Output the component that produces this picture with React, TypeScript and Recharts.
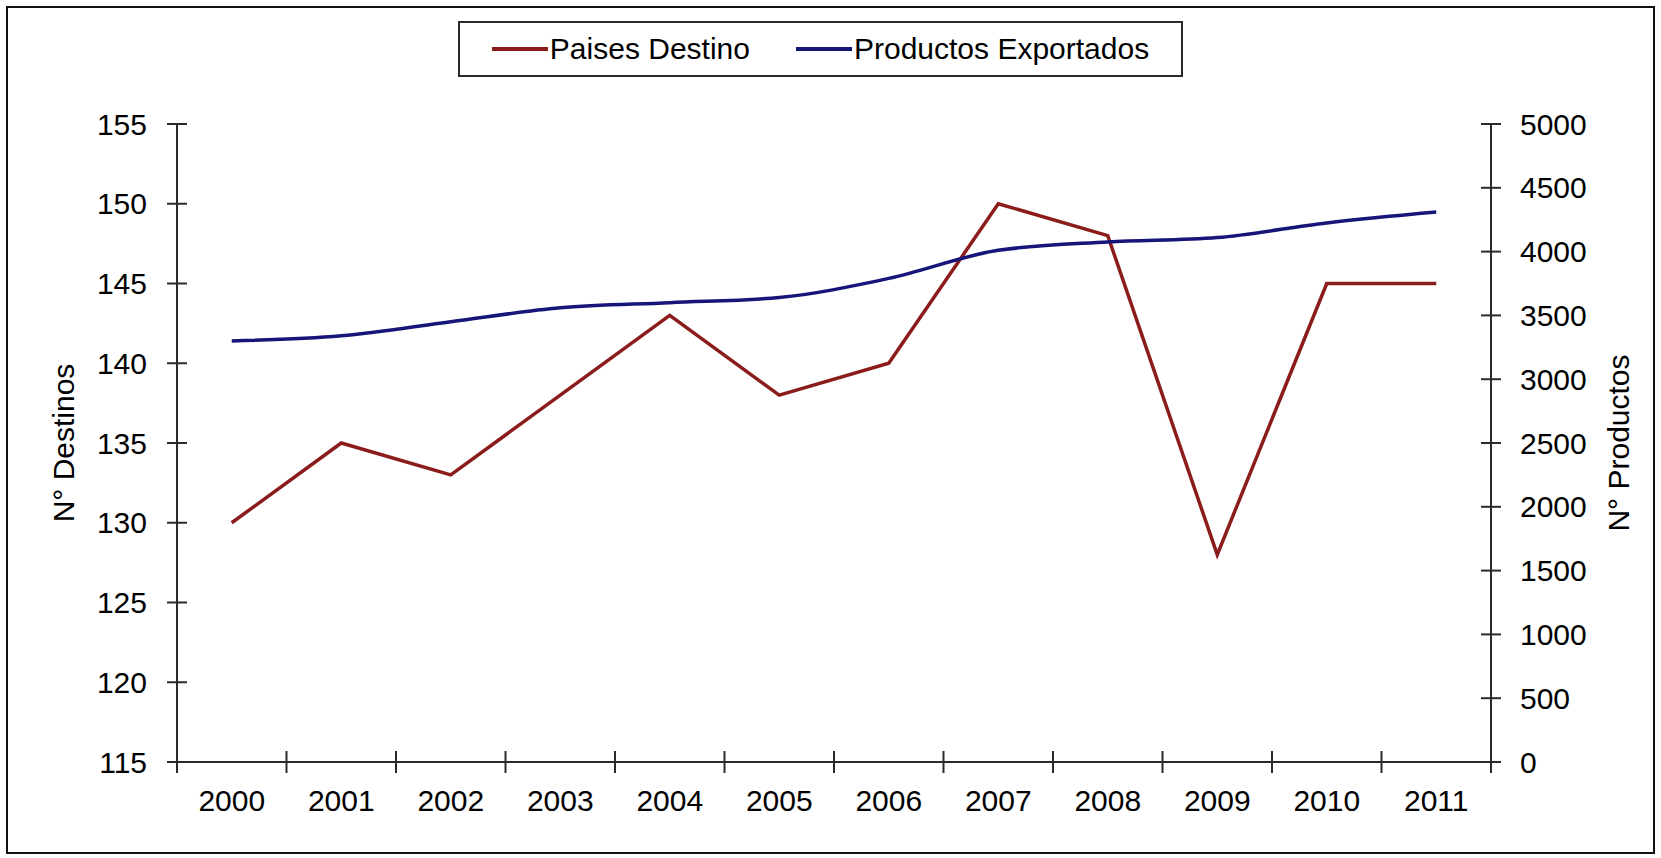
import { Label, Legend, Line, LineChart, XAxis, YAxis } from 'recharts'

const years = ['2000', '2001', '2002', '2003', '2004', '2005', '2006', '2007', '2008', '2009', '2010', '2011']
const paisesDestino = [130, 135, 133, 138, 143, 138, 140, 150, 148, 128, 145, 145]
const productosExportados = [3300, 3340, 3450, 3560, 3600, 3640, 3790, 4010, 4075, 4110, 4225, 4310]
const leftTicks = [115, 120, 125, 130, 135, 140, 145, 150, 155]
const rightTicks = [0, 500, 1000, 1500, 2000, 2500, 3000, 3500, 4000, 4500, 5000]

// year labels sit on integers, tick marks on the half steps between them (Excel style)
const xTicks: number[] = []
years.forEach((_, i) => xTicks.push(i - 0.5, i))
xTicks.push(years.length - 0.5)

const data = years.map((year, i) => ({
  i,
  year,
  paises: paisesDestino[i],
  productos: productosExportados[i],
}))

const FONT = '"Liberation Sans", Arial, sans-serif'
const FS = 30
const AXIS = '#2a2a2a'
const RED = '#8B1C1C'
const BLUE = '#16167A'

function XTick(props: any) {
  const { x, y, payload } = props
  const v = payload.value as number
  if (Number.isInteger(v)) {
    return (
      <text x={x} y={y + 28} dy="0.71em" textAnchor="middle" fontSize={FS} fill="#000" fontFamily={FONT}>
        {years[v]}
      </text>
    )
  }
  return <line x1={x} x2={x} y1={y - 11} y2={y + 11} stroke={AXIS} strokeWidth={2} />
}

function LeftTick(props: any) {
  const { x, y, payload } = props
  return (
    <g>
      <line x1={x - 10} x2={x + 10} y1={y} y2={y} stroke={AXIS} strokeWidth={2} />
      <text x={x - 30} y={y} dy="0.35em" textAnchor="end" fontSize={FS} fill="#000" fontFamily={FONT}>
        {payload.value}
      </text>
    </g>
  )
}

function RightTick(props: any) {
  const { x, y, payload } = props
  return (
    <g>
      <line x1={x - 10} x2={x + 10} y1={y} y2={y} stroke={AXIS} strokeWidth={2} />
      <text x={x + 29} y={y} dy="0.35em" textAnchor="start" fontSize={FS} fill="#000" fontFamily={FONT}>
        {payload.value}
      </text>
    </g>
  )
}

function AxisTitle(text: string, dx: number) {
  return (props: any) => {
    const { x, y, height } = props.viewBox
    const cx = x + dx
    const cy = y + height / 2
    return (
      <text
        x={cx}
        y={cy}
        transform={`rotate(-90 ${cx} ${cy})`}
        textAnchor="middle"
        dy="0.35em"
        fontSize={FS}
        fill="#000"
        fontFamily={FONT}
      >
        {text}
      </text>
    )
  }
}

function LegendBox({ payload }: any) {
  return (
    <div
      style={{
        height: 56,
        boxSizing: 'border-box',
        border: `2px solid ${AXIS}`,
        background: '#fff',
        display: 'flex',
        alignItems: 'center',
        justifyContent: 'center',
        gap: 46,
        fontFamily: FONT,
        fontSize: FS,
        color: '#000',
      }}
    >
      {(payload || []).map((p: any) => (
        <span key={p.value} style={{ display: 'flex', alignItems: 'center' }}>
          <span style={{ display: 'inline-block', width: 56, height: 4, background: p.color, marginRight: 2 }} />
          {p.value}
        </span>
      ))}
    </div>
  )
}

export default function App() {
  return (
    <div style={{ position: 'absolute', left: 0, top: 0, width: 1661, height: 858, background: '#fff' }}>
      <div
        style={{
          position: 'absolute',
          left: 6,
          top: 6,
          width: 1649,
          height: 848,
          boxSizing: 'border-box',
          border: '2px solid #111',
        }}
      />
      <div style={{ position: 'absolute', left: 0, top: 0 }}>
        <LineChart width={1661} height={858} data={data} margin={{ top: 124, right: 0, bottom: 95, left: 0 }}>
          <XAxis
            dataKey="i"
            type="number"
            domain={[-0.5, years.length - 0.5]}
            ticks={xTicks}
            interval={0}
            tickLine={false}
            tickSize={0}
            tickMargin={0}
            tick={<XTick />}
            axisLine={{ stroke: AXIS, strokeWidth: 2 }}
            height={1}
          />
          <YAxis
            yAxisId="left"
            domain={[115, 155]}
            ticks={leftTicks}
            interval={0}
            width={177}
            tickLine={false}
            tickSize={0}
            tickMargin={0}
            tick={<LeftTick />}
            axisLine={{ stroke: AXIS, strokeWidth: 2 }}
          >
            <Label content={AxisTitle('N° Destinos', 63)} />
          </YAxis>
          <YAxis
            yAxisId="right"
            orientation="right"
            domain={[0, 5000]}
            ticks={rightTicks}
            interval={0}
            width={170}
            tickLine={false}
            tickSize={0}
            tickMargin={0}
            tick={<RightTick />}
            axisLine={{ stroke: AXIS, strokeWidth: 2 }}
          >
            <Label content={AxisTitle('N° Productos', 127)} />
          </YAxis>
          <Legend
            layout="horizontal"
            verticalAlign="middle"
            align="center"
            wrapperStyle={{ top: 21, left: 458, width: 725, height: 56 }}
            content={<LegendBox />}
          />
          <Line
            yAxisId="left"
            dataKey="paises"
            name="Paises Destino"
            type="linear"
            stroke={RED}
            strokeWidth={3.5}
            dot={false}
            isAnimationActive={false}
          />
          <Line
            yAxisId="right"
            dataKey="productos"
            name="Productos Exportados"
            type="monotone"
            stroke={BLUE}
            strokeWidth={3.5}
            dot={false}
            isAnimationActive={false}
          />
        </LineChart>
      </div>
    </div>
  )
}
